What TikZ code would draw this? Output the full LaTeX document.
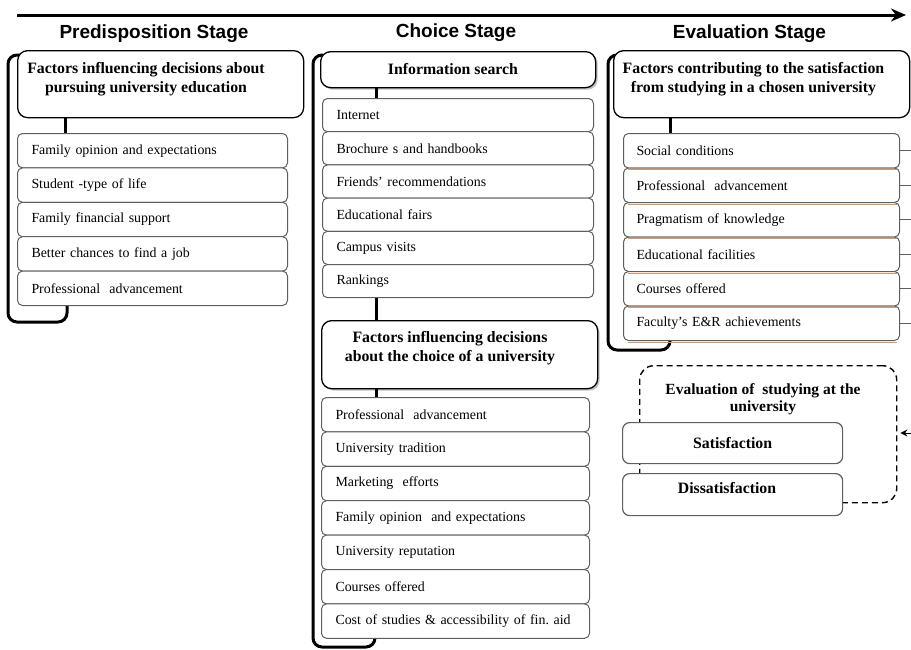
\documentclass[tikz,border=0pt]{standalone}
\usepackage{fontspec}
\setmainfont{Liberation Serif}
\newfontfamily\stagefont{Liberation Sans}
\usetikzlibrary{arrows.meta,shadows}
\definecolor{oshadow}{RGB}{215,150,100}
\definecolor{itemline}{RGB}{95,95,95}
\frenchspacing
\begin{document}
\begin{tikzpicture}[x=1pt,y=-1pt,
  stage/.style={font=\stagefont\bfseries\fontsize{19}{22}\selectfont, anchor=base, inner sep=0pt},
  hdr/.style={draw=black, line width=1.3pt, rounded corners=10pt, fill=white, anchor=north west, inner sep=0pt},
  hshadow/.style={drop shadow={shadow xshift=2pt, shadow yshift=-2pt, fill=black!40, opacity=.6}},
  hdrtxt/.style={font=\bfseries\fontsize{15.8}{19}\selectfont, align=center, inner sep=0pt},
  itm/.style={draw=itemline, line width=1pt, rounded corners=5pt, fill=white, anchor=north west,
    inner ysep=0pt, align=left, font=\fontsize{13.9}{16.7}\selectfont},
  brk/.style={line width=3pt, rounded corners=9pt},
  conn/.style={line width=3pt},
  evdash/.style={draw, line width=1.4pt, dash pattern=on 6pt off 4pt, rounded corners=14pt, anchor=north west, inner sep=0pt},
  sidel/.style={draw=itemline, line width=0.9pt}
]
\useasboundingbox (0,0) rectangle (911,649);

% timeline arrow
\coordinate (tA) at (17,15);
\coordinate (tB) at (906,15);
\draw[line width=3pt, -{Stealth[length=15pt,width=13pt]}] (tA) -- (tB);

% stage labels
\node[stage] (sP) at (154,38.5) {Predisposition Stage};
\node[stage] (sC) at (456,37.5) {Choice Stage};
\node[stage] (sE) at (749.5,38) {Evaluation Stage};

% brackets
\draw[brk] (20,55) -- (8,55) -- (8,322) -- (67,322) -- (67,306);
\draw[brk] (323,55) -- (313,55) -- (313,647) -- (375,647) -- (375,638);
\draw[brk] (619,55) -- (608,55) -- (608,350) -- (670,350) -- (670,340);

% column connector x positions
\coordinate (xL) at (65,0);
\coordinate (xM) at (376,0);
\coordinate (xR) at (670,0);
\coordinate (redge) at (911,0);

% ---------- Left column ----------
\node[hdr, minimum width=286pt, minimum height=67pt] (hL) at (17,50) {};
\node[hdrtxt] (hLt) at (146,79) {Factors influencing decisions about\\pursuing university education};
\foreach \t [count=\i from 0] in {Family opinion and expectations,Student -type of life,Family financial support,Better chances to find a job,Professional\ \ advancement}{
  \node[itm, inner xsep=14pt, text width=242pt, minimum height=34.4pt] (L\i) at (17,133+34.4*\i) {\t};
}
\draw[conn] (hL.south -| xL) -- (L0.north -| xL);

% ---------- Middle column ----------
\node[hdr, hshadow, minimum width=275pt, minimum height=36pt] (hM1) at (320,51) {};
\node[hdrtxt] (hM1t) at (453,69) {Information search};
\foreach \t [count=\i from 0] in {Internet,Brochure s and handbooks,Friends’ recommendations,Educational fairs,Campus visits,Rankings}{
  \node[itm, inner xsep=14pt, text width=243pt, minimum height=33.2pt] (M\i) at (322,98+33.2*\i) {\t};
}
\node[hdr, hshadow, minimum width=276pt, minimum height=68pt] (hM2) at (321,320) {};
\node[hdrtxt] (hM2t) at (450,348) {Factors influencing decisions\\about the choice of a university};
\foreach \t [count=\i from 0] in {Professional\ \ advancement,University tradition,Marketing\ \ efforts,Family opinion\ \ and expectations,University reputation,Courses offered,Cost of studies \& accessibility of fin. aid}{
  \node[itm, inner xsep=14pt, text width=240pt, minimum height=34.4pt] (N\i) at (321,397+34.4*\i) {\t};
}
\draw[conn] (hM1.south -| xM) -- (M0.north -| xM);
\draw[conn] (M5.south -| xM) -- (hM2.north -| xM);
\draw[conn] (hM2.south -| xM) -- (N0.north -| xM);

% ---------- Right column ----------
\node[hdr, minimum width=296pt, minimum height=67pt] (hR) at (613,50) {};
\node[hdrtxt] (hRt) at (753.5,79) {Factors contributing to the satisfaction\\from studying in a chosen university};
\foreach \t [count=\i from 0] in {Social conditions,Professional\ \ advancement,Pragmatism of knowledge,Educational facilities,Courses offered,Faculty’s E\&R achievements}{
  \node[itm, inner xsep=13pt, text width=250pt, minimum height=34.5pt] (R\i) at (623,133+34.5*\i) {\t};
}
\foreach \i in {0,...,5}{
  \draw[oshadow, line width=1.2pt] ([xshift=5pt,yshift=-1.3pt]R\i.south west) -- ([xshift=-3pt,yshift=-1.3pt]R\i.south east);
  \draw[sidel] (R\i.east) -- (R\i.east -| redge);
}
\draw[conn] (hR.south -| xR) -- (R0.north -| xR);

% ---------- Evaluation ----------
\node[evdash, minimum width=257pt, minimum height=137pt] (ev) at (639,365) {};
\node[hdrtxt, font=\bfseries\fontsize{15.5}{17.5}\selectfont] (evt) at (763,399) {Evaluation of\ \ studying at the\\university};
\node[hdr, draw=itemline, line width=1.2pt, rounded corners=7pt, minimum width=220pt, minimum height=41pt, font=\bfseries\fontsize{15.8}{19}\selectfont] (sat) at (622,422) {Satisfaction};
\node[hdr, draw=itemline, line width=1.2pt, rounded corners=7pt, minimum width=220pt, minimum height=42pt] (dis) at (622,473) {};
\node[hdrtxt] (dist) at (727,488) {Dissatisfaction};
\coordinate (arrS) at (911,433);
\draw[line width=1pt, -{Stealth[length=7pt,width=7pt]}, shorten >=3pt] (arrS) -- (ev.east |- arrS);

\end{tikzpicture}
\end{document}
